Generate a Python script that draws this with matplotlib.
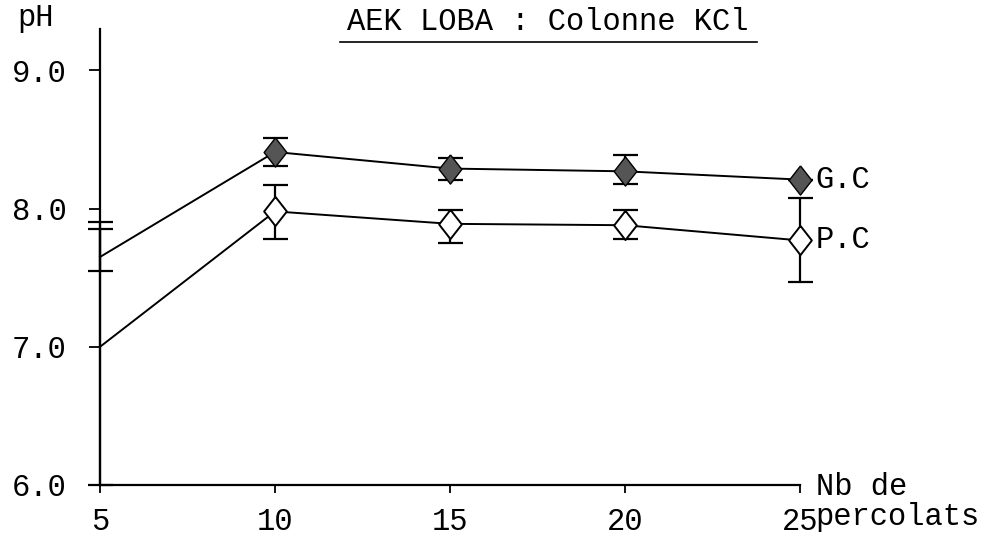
import matplotlib.pyplot as plt
from matplotlib.lines import Line2D

# data
percolats = [5, 10, 15, 20, 25]
gc_ph = [7.65, 8.41, 8.29, 8.27, 8.21]
gc_low = [7.55, 8.31, 8.21, 8.18, 8.21]
gc_high = [7.85, 8.51, 8.37, 8.39, 8.21]
pc_ph = [7.0, 7.98, 7.89, 7.88, 7.77]
pc_low = [6.0, 7.78, 7.75, 7.78, 7.47]
pc_high = [7.9, 8.17, 7.99, 7.99, 8.08]
yticks = [6.0, 7.0, 8.0, 9.0]
xticks = [5, 10, 15, 20, 25]

font = 'Liberation Mono'
plt.rcParams['font.family'] = [font, 'DejaVu Sans Mono']
fs = 22

# diamond a bit narrower than tall, like the hand-drawn ones
losange = [(0, 1), (0.78, 0), (0, -1), (-0.78, 0), (0, 1)]

fig = plt.figure(figsize=(9.89, 5.44), dpi=100)
ax = fig.add_axes([100/989, (544-485)/544, 700/989, (485-29)/544])

def err(v, lo, hi):
    return [[a - b for a, b in zip(v, lo)], [c - a for a, c in zip(v, hi)]]

# G.C series
ax.errorbar(percolats, gc_ph, yerr=err(gc_ph, gc_low, gc_high), fmt='none',
            ecolor='black', elinewidth=1.6, capsize=9, capthick=1.6, clip_on=False)
ax.plot(percolats, gc_ph, color='black', lw=1.4, clip_on=False)
ax.plot(percolats[1:], gc_ph[1:], marker=losange, ls='none', ms=21, mfc='#555555',
        mec='black', mew=1.0, clip_on=False)

# P.C series
ax.errorbar(percolats, pc_ph, yerr=err(pc_ph, pc_low, pc_high), fmt='none',
            ecolor='black', elinewidth=1.6, capsize=9, capthick=1.6, clip_on=False)
ax.plot(percolats, pc_ph, color='black', lw=1.4, clip_on=False)
ax.plot(percolats[1:], pc_ph[1:], marker=losange, ls='none', ms=21, mfc='white',
        mec='black', mew=1.4, clip_on=False)

ax.set_xlim(5, 25)
ax.set_ylim(6.0, 9.3)
ax.set_xticks(xticks)
ax.set_xticklabels([str(v) for v in xticks])
ax.set_yticks(yticks)
ax.set_yticklabels(['%.1f' % v for v in yticks])
ax.tick_params(axis='y', direction='out', length=8, width=1.3, pad=16, labelsize=fs)
ax.tick_params(axis='x', direction='out', length=6, width=1.3, pad=10, labelsize=fs)
ax.spines['top'].set_visible(False)
ax.spines['right'].set_visible(False)
ax.spines['left'].set_linewidth(1.6)
ax.spines['bottom'].set_linewidth(1.6)

ax.text(25.45, gc_ph[-1], 'G.C', fontsize=fs, va='center', ha='left')
ax.text(25.45, pc_ph[-1], 'P.C', fontsize=fs, va='center', ha='left')
ax.text(25.45, 5.88, 'Nb de\npercolats', fontsize=fs, va='center', ha='left',
        linespacing=1.0, clip_on=False)

fig.text(17/989, 1 - 18/544, 'pH', fontsize=fs, va='center', ha='left')
fig.text(548/989, 1 - 22/544, 'AEK LOBA : Colonne KCl', fontsize=fs, va='center', ha='center')
fig.add_artist(Line2D([340/989, 757/989], [1 - 42/544, 1 - 42/544], color='black', lw=1.2))

fig.savefig('out.png', dpi=100)
